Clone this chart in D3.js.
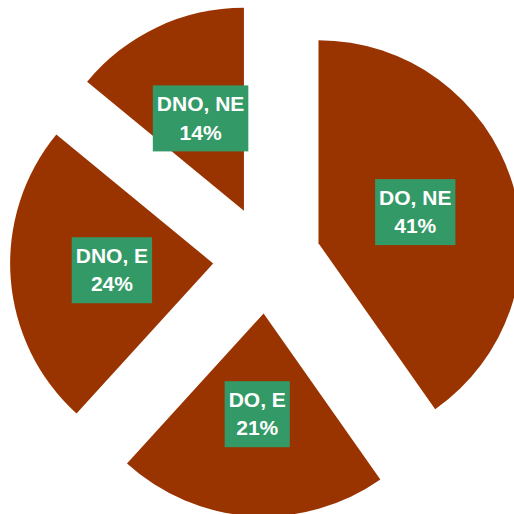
<!DOCTYPE html>
<html>
<head>
<meta charset="utf-8">
<script src="https://cdn.jsdelivr.net/npm/d3@7"></script>
<style>
  html, body { margin: 0; padding: 0; background: #fff; }
  svg { display: block; }
</style>
</head>
<body>
<svg width="514" height="514"></svg>
<script>
// slice names, shares as drawn, and the percentages printed on the labels
const categories = ["DO, NE", "DO, E", "DNO, E", "DNO, NE"];
const values = [40.25, 21.5, 24.2, 14.05];
const pctLabels = ["41%", "21%", "24%", "14%"];

const svg = d3.select("svg");
const width = +svg.attr("width");
const height = +svg.attr("height");

const cx = 267;
const cy = 259.5;
const radius = 203;
const explode = 54;

const sliceColor = "#993300";
const labelColor = "#339966";

const pie = d3.pie().sort(null).value(d => d);
const arc = d3.arc().innerRadius(0).outerRadius(radius);

const arcs = pie(values);

const chart = svg.append("g")
    .attr("transform", `translate(${cx},${cy})`);

const slices = chart.selectAll("g.slice")
    .data(arcs)
    .enter().append("g")
    .attr("class", "slice")
    .attr("transform", d => {
        const mid = (d.startAngle + d.endAngle) / 2;
        return `translate(${Math.sin(mid) * explode},${-Math.cos(mid) * explode})`;
    });

slices.append("path")
    .attr("d", arc)
    .attr("fill", sliceColor);

// label boxes
slices.each(function(d, i) {
    const g = d3.select(this);
    const [lx, ly] = arc.centroid(d);
    const lbl = g.append("g").attr("transform", `translate(${lx},${ly})`);
    const rect = lbl.append("rect").attr("fill", labelColor);
    const text = lbl.append("text")
        .attr("text-anchor", "middle")
        .attr("fill", "#fff")
        .style("font-family", "Arial, 'Liberation Sans', sans-serif")
        .style("font-weight", "bold")
        .style("font-size", "21px");
    const t1 = text.append("tspan").attr("x", 0).attr("y", -8).text(categories[i]);
    const t2 = text.append("tspan").attr("x", 0).attr("y", 20.7).text(pctLabels[i]);

    const tw = Math.max(t1.node().getComputedTextLength(), t2.node().getComputedTextLength());
    const w = tw + 8;
    const h = 66;
    rect.attr("x", -w / 2).attr("y", -h / 2 - 0.5).attr("width", w).attr("height", h);
});
</script>
</body>
</html>
